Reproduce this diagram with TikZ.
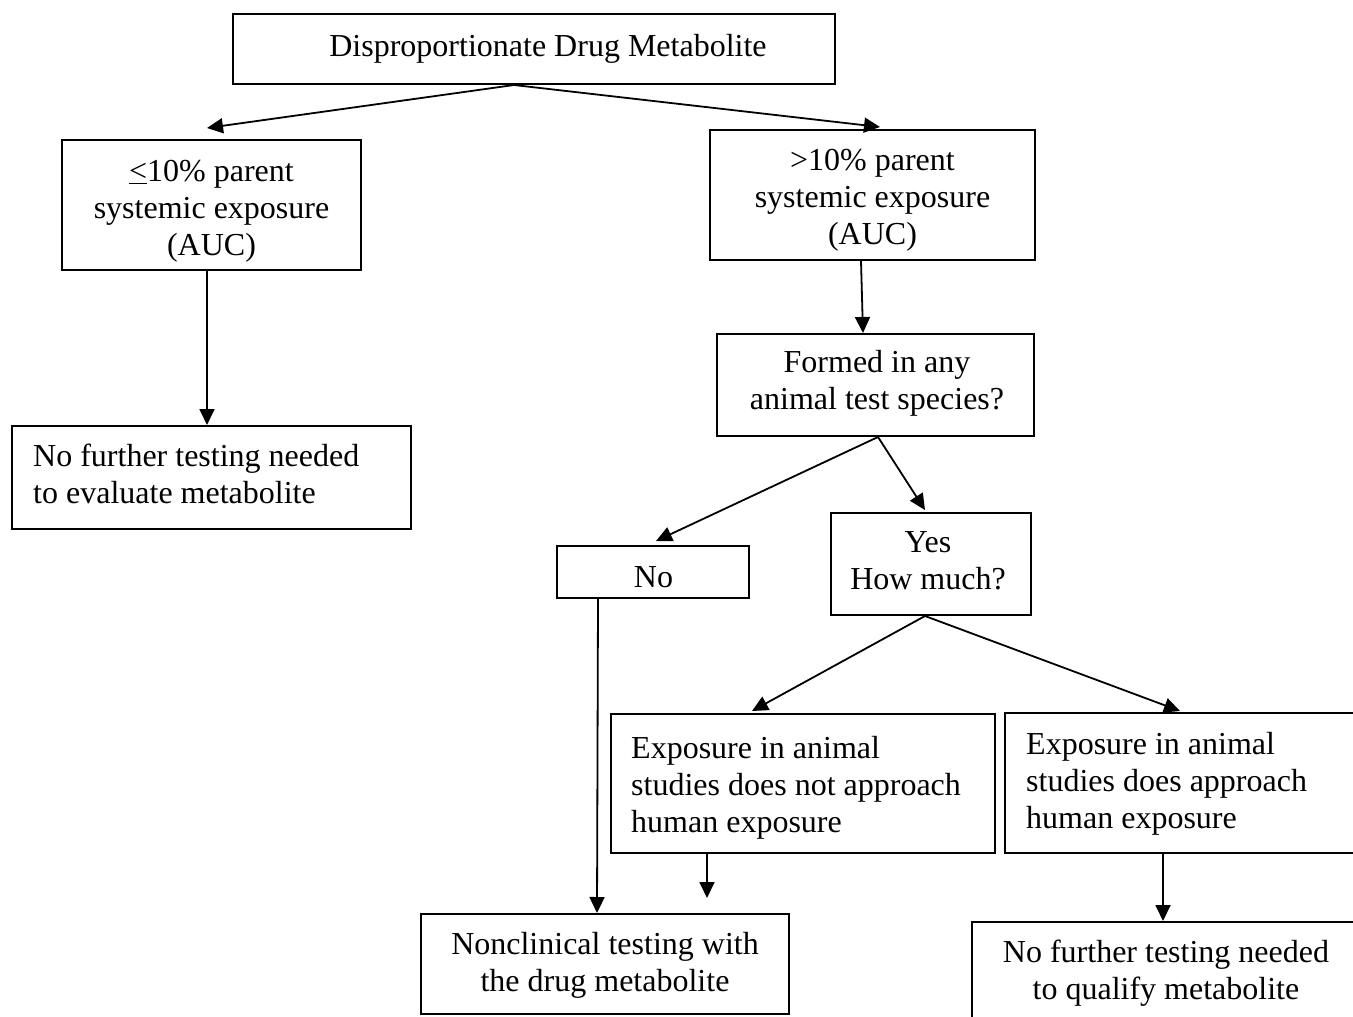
\documentclass[tikz,border=0pt]{standalone}
\usepackage{fontspec}
\setmainfont{Liberation Serif}
\usetikzlibrary{arrows.meta}
\begin{document}
\begin{tikzpicture}[x=1pt,y=-1pt,
  box/.style={draw,line width=2pt,inner sep=0pt},
  txt/.style={inner sep=0pt,font=\fontsize{32}{37}\selectfont},
  ctxt/.style={txt,align=center},
  ltxt/.style={txt,align=left,anchor=west},
  arr/.style={line width=1.8pt,-{Triangle[length=16pt,width=15pt]}}]
\useasboundingbox (0,0) rectangle (1353,1017);
\clip (0,0) rectangle (1353,1017);
\fill[white] (0,0) rectangle (1353,1017);
% boxes
\node[box,minimum width=602pt,minimum height=70pt] (top) at (534,49) {};
\node[box,minimum width=299pt,minimum height=130pt] (L1) at (211.5,205) {};
\node[box,minimum width=325pt,minimum height=130pt] (R1) at (872.5,195) {};
\node[box,minimum width=399pt,minimum height=103pt] (eval) at (211.5,477.5) {};
\node[box,minimum width=317pt,minimum height=102pt] (formed) at (875.5,385) {};
\node[box,minimum width=192pt,minimum height=52pt] (no) at (653,572) {};
\node[box,minimum width=200pt,minimum height=102pt] (yes) at (931,564) {};
\node[box,minimum width=384pt,minimum height=139pt] (expnot) at (803,783.5) {};
\node[box,minimum width=370pt,minimum height=140pt] (expapp) at (1190,783) {};
\node[box,minimum width=368pt,minimum height=100pt] (nonclin) at (605,964) {};
\node[box,minimum width=388pt,minimum height=98pt] (qual) at (1166,971) {};
% texts
\node[ctxt] (topt) at (548,49.5) {\strut Disproportionate Drug Metabolite\strut};
\node[ctxt] (L1t) at (211.5,211.5) {\strut\underline{<}10\% parent\\systemic exposure\\(AUC)\strut};
\node[ctxt] (R1t) at (872.5,200.5) {\strut>10\% parent\\systemic exposure\\(AUC)\strut};
\node[ltxt] (evalt) at (33,478) {\strut No further testing needed\\to evaluate metabolite\strut};
\node[ctxt] (formedt) at (877,384) {\strut Formed in any\\animal test species?\strut};
\node[ctxt] (not) at (653.5,580.5) {\strut No\strut};
\node[ctxt] (yest) at (928,564) {\strut Yes\\How much?\strut};
\node[ltxt] (expnott) at (631,788.5) {\strut Exposure in animal\\studies does not approach\\human exposure\strut};
\node[ltxt] (expappt) at (1026,784.5) {\strut Exposure in animal\\studies does approach\\human exposure\strut};
\node[ctxt] (nonclint) at (605,965.5) {\strut Nonclinical testing with\\the drug metabolite\strut};
\node[ctxt] (qualt) at (1166,974) {\strut No further testing needed\\to qualify metabolite\strut};
% connectors
\draw[arr] ([xshift=-20pt]top.south) -- ([xshift=-4.5pt,yshift=11pt]L1.north);
\draw[arr] ([xshift=-20pt]top.south) -- ([xshift=7.5pt,yshift=2pt]R1.north);
\draw[arr] ([xshift=-4.5pt]L1.south) -- ([xshift=-4.5pt]eval.north);
\draw[arr] ([xshift=-11.5pt]R1.south) -- ([xshift=-12.5pt]formed.north);
\draw[arr] ([xshift=2.5pt]formed.south) -- ([xshift=3pt,yshift=4pt]no.north);
\draw[arr] ([xshift=2.5pt]formed.south) -- ([xshift=-6pt,yshift=2pt]yes.north);
\draw[arr] ([xshift=-6pt]yes.south) -- ([xshift=-51pt,yshift=2pt]expnot.north);
\draw[arr] ([xshift=-6pt]yes.south) -- ([xshift=-10pt,yshift=1pt]expapp.north);
\draw[arr] ([xshift=-55pt]no.south) -- ([xshift=-8pt]nonclin.north);
\coordinate (nce) at ([xshift=102pt,yshift=15pt]nonclin.north);
\draw[arr] ([xshift=-96pt]expnot.south) -- (nce);
\draw[arr] ([xshift=-27pt]expapp.south) -- ([xshift=-3pt]qual.north);
\end{tikzpicture}
\end{document}
